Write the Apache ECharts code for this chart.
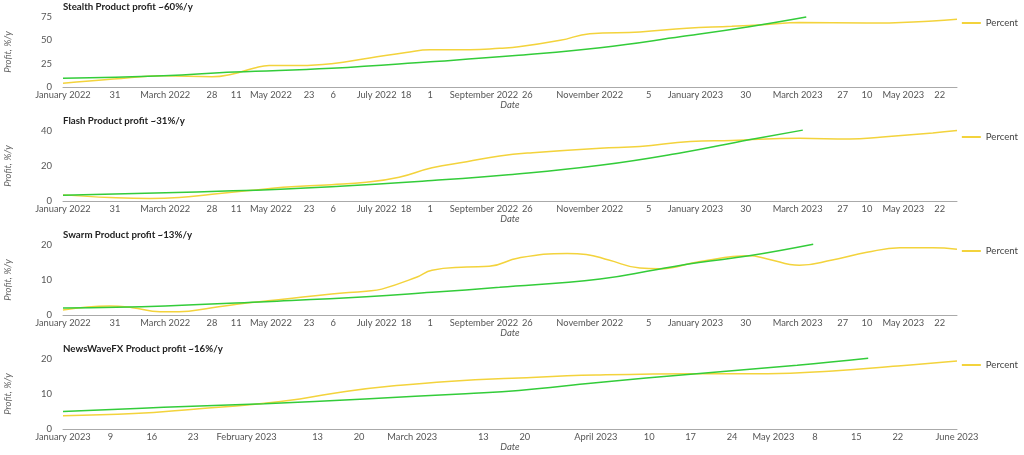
<!DOCTYPE html>
<html>
<head>
<meta charset="utf-8">
<script src="https://cdn.jsdelivr.net/npm/echarts@6/dist/echarts.min.js"></script>
<style>
html,body{margin:0;padding:0;background:#fff;}
#main{width:1024px;height:455px;}
</style>
</head>
<body>
<div id="main"></div>
<script>
// ---------- DATA ----------
const panelTitles = [
  'Stealth Product profit ~60%/y',
  'Flash Product profit ~31%/y',
  'Swarm Product profit ~13%/y',
  'NewsWaveFX Product profit ~16%/y'
];

const yMax = [75, 40, 20, 20];
const yInterval = [25, 20, 10, 10];

const xRange2022 = ['2022-01-01', '2023-06-01'];
const xRange2023 = ['2023-01-01', '2023-06-01'];

const tickDates2022 = ['2022-01-01','2022-01-31','2022-03-01','2022-03-28','2022-04-11','2022-05-01','2022-05-23','2022-06-06','2022-07-01','2022-07-18','2022-08-01','2022-09-01','2022-09-26','2022-11-01','2022-12-05','2023-01-01','2023-01-30','2023-03-01','2023-03-27','2023-04-10','2023-05-01','2023-05-22'];
const tickLabels2022 = ['January 2022','31','March 2022','28','11','May 2022','23','6','July 2022','18','1','September 2022','26','November 2022','5','January 2023','30','March 2023','27','10','May 2023','22'];

const tickDates2023 = ['2023-01-01','2023-01-09','2023-01-16','2023-01-23','2023-02-01','2023-02-13','2023-02-20','2023-03-01','2023-03-13','2023-03-20','2023-04-01','2023-04-10','2023-04-17','2023-04-24','2023-05-01','2023-05-08','2023-05-15','2023-05-22','2023-06-01'];
const tickLabels2023 = ['January 2023','9','16','23','February 2023','13','20','March 2023','13','20','April 2023','10','17','24','May 2023','8','15','22','June 2023'];

const stealthPercent = [
  ['2022-01-01',4],['2022-01-30',8.5],['2022-02-28',12],['2022-03-28',11],['2022-04-09',14],
  ['2022-04-21',20],['2022-04-30',23],['2022-05-18',23],['2022-06-05',25],['2022-06-27',31],['2022-07-18',37],
  ['2022-08-01',40],['2022-08-24',40],['2022-09-10',41.5],['2022-09-21',43],['2022-10-15',50],
  ['2022-11-01',57],['2022-11-30',59],['2022-12-27',63],['2023-01-22',65],['2023-02-11',67],
  ['2023-03-02',69],['2023-04-10',68.5],['2023-05-18',70.7],['2023-06-01',72.5]
];
const stealthTrend = [
  ['2022-01-01',9.5],['2022-02-28',12],['2022-04-10',16],['2022-06-05',20],['2022-08-01',27],
  ['2022-09-21',34],['2022-11-07',42],['2022-12-24',54],['2023-02-01',64.6],['2023-03-06',75]
];

const flashPercent = [
  ['2022-01-01',3.5],['2022-01-28',2],['2022-02-20',1.4],['2022-03-09',2],['2022-03-28',3.9],
  ['2022-04-17',5.8],['2022-05-08',7.8],['2022-06-05',9.3],['2022-06-25',10.7],['2022-07-14',13.6],
  ['2022-08-02',19],['2022-08-22',22.4],['2022-09-10',25.7],['2022-09-29',27.6],['2022-11-07',30.2],
  ['2022-11-30',31.1],['2022-12-29',34],['2023-01-22',34.6],['2023-03-02',35.8],['2023-03-31',35.4],
  ['2023-04-19',36.6],['2023-05-18',38.9],['2023-06-01',40.3]
];
const flashTrend = [
  ['2022-01-01',3.3],['2022-04-09',5.8],['2022-06-05',8.2],['2022-08-02',11.7],['2022-09-15',15],
  ['2022-11-07',20.4],['2022-12-24',27.6],['2023-02-01',35],['2023-03-04',40.5]
];

const swarmPercent = [
  ['2022-01-01',1.4],['2022-01-28',2.6],['2022-02-10',2.1],['2022-02-26',0.9],['2022-03-09',0.9],
  ['2022-03-28',2.1],['2022-04-17',3.4],['2022-05-08',4.5],['2022-06-05',6],['2022-06-25',6.8],
  ['2022-07-04',7.4],['2022-07-24',10.8],['2022-08-02',12.8],['2022-08-22',13.7],['2022-09-04',13.9],
  ['2022-09-21',16.3],['2022-10-19',17.6],['2022-10-30',17.3],['2022-11-12',15.7],['2022-11-30',13.4],
  ['2022-12-11',13.2],['2023-01-03',15.2],['2023-02-01',16.9],['2023-02-11',16.1],['2023-03-02',14.2],
  ['2023-03-21',15.7],['2023-04-10',17.9],['2023-04-29',19.2],['2023-05-18',19.2],['2023-06-01',18.8]
];
const swarmTrend = [
  ['2022-01-01',2.0],['2022-03-01',2.6],['2022-04-28',3.8],['2022-06-25',5.2],['2022-08-02',6.5],
  ['2022-09-10',7.9],['2022-11-07',10.3],['2022-12-10',13],['2023-01-03',15],['2023-02-01',16.9],
  ['2023-03-10',20.2]
];

const newsPercent = [
  ['2023-01-01',3.8],['2023-01-13',4.4],['2023-01-24',5.8],['2023-02-02',7],['2023-02-10',8.6],
  ['2023-02-18',10.8],['2023-02-27',12.5],['2023-03-07',13.6],['2023-03-19',14.6],['2023-04-01',15.4],
  ['2023-04-18',15.8],['2023-04-30',15.8],['2023-05-11',16.6],['2023-05-22',18],['2023-06-01',19.4]
];
const newsTrend = [
  ['2023-01-01',5.0],['2023-01-18',6.2],['2023-02-04',7.2],['2023-02-21',8.6],['2023-03-10',10.1],
  ['2023-03-19',11.0],['2023-04-01',13.2],['2023-04-18',15.8],['2023-05-05',18.2],['2023-05-17',20.2]
];

// ---------- CHART ----------
function ts(s){ const p = s.split('-').map(Number); return Date.UTC(p[0], p[1]-1, p[2]); }
function conv(arr){ return arr.map(d => [ts(d[0]), d[1]]); }

const percentSets = [stealthPercent, flashPercent, swarmPercent, newsPercent];
const trendSets = [stealthTrend, flashTrend, swarmTrend, newsTrend];
const ranges = [xRange2022, xRange2022, xRange2022, xRange2023];
const tickSets = [
  [tickDates2022, tickLabels2022],[tickDates2022, tickLabels2022],
  [tickDates2022, tickLabels2022],[tickDates2023, tickLabels2023]
];

const gridTops = [17, 131, 245, 359];
const gridH = 70;
const FONT = 'Lato';
const YELLOW = '#f3d33c';
const GREEN = '#33cc3a';

const option = {
  animation: false,
  backgroundColor: '#fff',
  textStyle: { fontFamily: FONT },
  title: [], legend: [], grid: [], xAxis: [], yAxis: [], series: []
};

for (let i = 0; i < 4; i++) {
  const top = gridTops[i];
  option.grid.push({ left: 63, right: 67, top: top, height: gridH, containLabel: false, outerBoundsMode: 'none' });
  option.title.push({
    text: panelTitles[i], left: 58, top: top - 20,
    textStyle: { fontSize: 9.7, fontWeight: 'bold', color: '#222', fontFamily: FONT }
  });
  option.legend.push({
    data: ['Percent'], right: 1, top: top - 4,
    icon: 'rect', itemWidth: 19, itemHeight: 2, itemGap: 5,
    textStyle: { fontSize: 9.6, color: '#444', fontFamily: FONT }
  });
  const tickTs = tickSets[i][0].map(ts);
  const labelMap = {};
  tickTs.forEach((t, k) => { labelMap[t] = tickSets[i][1][k]; });
  option.xAxis.push({
    type: 'value', gridIndex: i,
    min: ts(ranges[i][0]), max: ts(ranges[i][1]),
    name: 'Date', nameLocation: 'middle', nameGap: 8,
    nameTextStyle: { fontStyle: 'italic', fontSize: 9.5, color: '#555', fontFamily: FONT },
    axisLine: { show: true, lineStyle: { color: '#aaa', width: 1 } },
    axisTick: { show: false, customValues: tickTs },
    splitLine: { show: false },
    axisLabel: {
      customValues: tickTs, fontSize: 9.3, color: '#555', margin: 3,
      hideOverlap: false, showMinLabel: true, showMaxLabel: true,
      fontFamily: FONT,
      formatter: function (v) { return labelMap[v] !== undefined ? labelMap[v] : ''; }
    }
  });
  option.yAxis.push({
    type: 'value', gridIndex: i, min: 0, max: yMax[i], interval: yInterval[i],
    name: 'Profit, %/y', nameLocation: 'middle', nameGap: 50,
    nameTextStyle: { fontStyle: 'italic', fontSize: 9.5, color: '#666', fontFamily: FONT },
    axisLine: { show: false }, axisTick: { show: false },
    splitLine: { show: false },
    axisLabel: { fontSize: 9.5, color: '#555', margin: 11, fontFamily: FONT }
  });
  option.series.push({
    name: 'Percent', type: 'line', xAxisIndex: i, yAxisIndex: i,
    data: conv(percentSets[i]), smooth: 0.45,
    showSymbol: false, symbol: 'none', clip: false,
    lineStyle: { color: YELLOW, width: 1.5 }, itemStyle: { color: YELLOW }
  });
  option.series.push({
    name: 'Trend', type: 'line', xAxisIndex: i, yAxisIndex: i,
    data: conv(trendSets[i]), smooth: 0.45,
    showSymbol: false, symbol: 'none', clip: false,
    lineStyle: { color: GREEN, width: 1.5 }, itemStyle: { color: GREEN }
  });
}

const chart = echarts.init(document.getElementById('main'), null, { renderer: 'canvas' });
chart.setOption(option);
</script>
</body>
</html>
